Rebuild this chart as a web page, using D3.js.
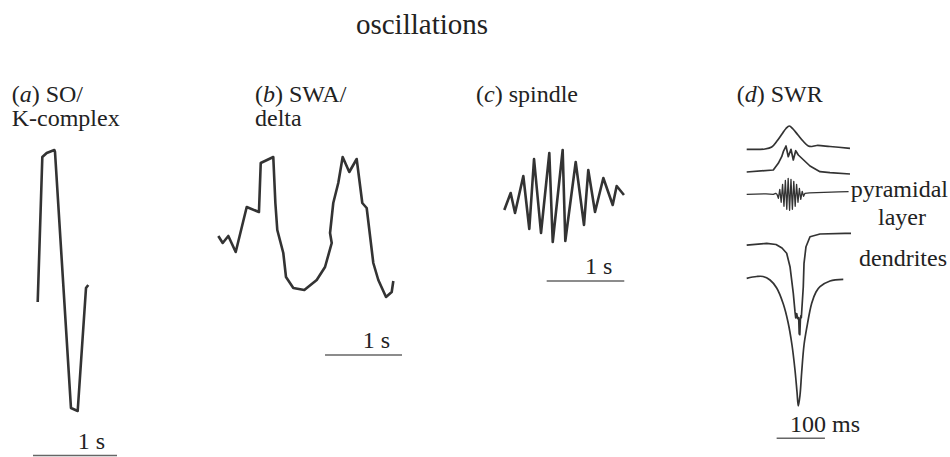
<!DOCTYPE html>
<html>
<head>
<meta charset="utf-8">
<script src="https://cdn.jsdelivr.net/npm/d3@7"></script>
<style>
  body { margin: 0; background: #fff; }
  svg text { fill: #222; }
</style>
</head>
<body>
<svg id="chart" width="950" height="457" font-family="'Liberation Serif', 'Times New Roman', Times, serif"></svg>
<script>
// (a) slow oscillation / K-complex : time (s), amplitude (uV)
const soTime = [0.056, 0.111, 0.163, 0.254, 0.262, 0.452, 0.532, 0.631, 0.658];
const soAmp = [-22, 123, 127, 130, 128, -128, -131, -8, -5];

// (b) slow wave activity / delta
const swaTime = [0.004, 0.061, 0.134, 0.230, 0.373, 0.532, 0.555, 0.718, 0.745, 0.770, 0.848, 0.883,
  0.978, 1.121, 1.282, 1.390, 1.477, 1.455, 1.497, 1.562, 1.619, 1.705, 1.801, 1.874, 1.931, 2.017,
  2.082, 2.182, 2.256, 2.277];
const swaAmp = [-11, -18, -11, -27, 18, 13, 62, 68, 22, -5, -28, -52,
  -63, -65, -55, -42, -18, -8, 22, 42, 68, 53, 66, 22, 17, -38,
  -55, -72, -67, -56];

// (c) spindle
const spindleTime = [0.004, 0.086, 0.142, 0.249, 0.326, 0.387, 0.477, 0.584, 0.628, 0.756, 0.790,
  0.924, 1.031, 1.086, 1.173, 1.280, 1.401, 1.452, 1.546];
const spindleAmp = [-15, 2, -18, 19, -34, 36, -38, 42, -47, 45, -46, 33, -30, 25, -17, 17, -10, 9, 0];

// (d) sharp-wave ripple, five recording depths : time (ms)
const swr1Time = [0, 37.9, 51.8, 62.7, 73.1, 81.4, 88.2, 95.9, 106.2, 116.6, 127.6, 135.2, 145, 172.5, 213.9];
const swr1Amp = [0, 0.3, 2.3, 8.3, 15.3, 20.8, 23.3, 20.3, 14.3, 8.3, 3.3, 2.8, 3.8, 2.8, 1];

const swr2Time = [0, 55.1, 65.4, 72.5, 75.8, 81.4, 86.1, 91.7, 96.5, 101.5, 106.9, 131.1, 151.8, 172.5, 213.9];
const swr2Amp = [0, 2, 8.7, 15.3, 20.3, 26, 15.3, 22.7, 12, 21.3, 17, 6, 0.3, -0.7, -2];

const swr3Time = [0, 40, 55, 60, 62.7, 65.6, 68.5, 71.4, 74.3, 77.2, 80.1, 83, 85.9, 88.8, 91.7, 94.6,
  97.5, 100.4, 103.3, 106.2, 109.1, 112, 114.9, 117.8, 120.7, 130, 160, 190, 211];
const swr3Amp = [0, 0.5, 0, 1, 0, -4, 5, -8, 10, -12, 14, -15, 16, -16, 15, -15,
  13, -12, 10, -8, 6, -5, 3, -2, 1, 1.5, 2, 2.5, 2.6];

const swr4Time = [0, 41.4, 60.7, 73.1, 82.8, 89.7, 96.5, 100, 101.5, 103.6, 105.6, 107.7, 108.7,
  110, 111.2, 112.3, 113.1, 117.2, 118.7, 122.8, 131.1, 151.8, 203.6, 216];
const swr4Amp = [0.5, 2.4, 1.2, -2.3, -7.6, -21, -47.6, -66, -72.3, -68, -73, -72, -88,
  -89, -74, -70, -72, -41, -17.6, -1, 9, 11.7, 12.4, 12.4];

const swr5Time = [0, 20.7, 33.8, 48.3, 62.1, 75.8, 85.5, 93.8, 100, 104.2, 106.9, 110.4, 113.9,
  118.7, 124.3, 134.6, 143.5, 151.8, 172.5, 200];
const swr5Amp = [0, 1.8, 1.8, -1.7, -9.7, -25.7, -43.7, -66.7, -91.7, -113.7, -127.7, -116.7, -93.7,
  -66.7, -49.7, -25, -13.7, -8.4, -2.7, -1];

const svg = d3.select("#chart");
const ink = "#333";

// Title
svg.append("text")
  .attr("x", 422)
  .attr("y", 34)
  .attr("text-anchor", "middle")
  .style("font-size", "29px")
  .text("oscillations");

// Panel headings
function heading(x, letter, lines) {
  const t = svg.append("text").attr("x", x).attr("y", 102).style("font-size", "24px");
  t.append("tspan").text("(");
  t.append("tspan").style("font-style", "italic").text(letter);
  t.append("tspan").text(") " + lines[0]);
  if (lines[1]) {
    svg.append("text").attr("x", x).attr("y", 126).style("font-size", "24px").text(lines[1]);
  }
}
heading(11.7, "a", ["SO/", "K-complex"]);
heading(255, "b", ["SWA/", "delta"]);
heading(476, "c", ["spindle"]);
heading(736.7, "d", ["SWR"]);

// draw one trace from time/amp arrays
function trace(xs, ys, times, amps, width, curve) {
  const pts = times.map((t, i) => [t, amps[i]]);
  const line = d3.line()
    .x(d => xs(d[0]))
    .y(d => ys(d[1]))
    .curve(curve || d3.curveLinear);
  svg.append("path")
    .datum(pts)
    .attr("fill", "none")
    .attr("stroke", ink)
    .attr("stroke-width", width)
    .attr("stroke-linejoin", "round")
    .attr("d", line);
}

// scale bar: horizontal line of one unit plus label above it
function scaleBar(xs, t0, t1, y, label) {
  svg.append("line")
    .attr("x1", xs(t0)).attr("x2", xs(t1))
    .attr("y1", y).attr("y2", y)
    .attr("stroke", "#666")
    .attr("stroke-width", 1.5);
  if (label) {
    svg.append("text")
      .attr("x", xs(t1) - 12)
      .attr("y", y - 7)
      .attr("text-anchor", "end")
      .style("font-size", "24px")
      .text(label);
  }
}

// (a)
const xA = d3.scaleLinear().domain([0, 1]).range([33, 117]);
const yA = d3.scaleLinear().domain([0, 100]).range([280, 180]);
trace(xA, yA, soTime, soAmp, 2.6);
scaleBar(xA, 0, 1, 455.5, "1 s");

// (b)
const xB = d3.scaleLinear().domain([0, 1]).range([218, 295]);
const yB = d3.scaleLinear().domain([0, 100]).range([225, 125]);
trace(xB, yB, swaTime, swaAmp, 2.6);
scaleBar(xB, 1.39, 2.39, 355, "1 s");

// (c)
const xC = d3.scaleLinear().domain([0, 1]).range([504, 581.6]);
const yC = d3.scaleLinear().domain([0, 100]).range([195, 95]);
trace(xC, yC, spindleTime, spindleAmp, 2.6);
scaleBar(xC, 0.55, 1.55, 281, "1 s");

// (d)
const xD = d3.scaleLinear().domain([0, 216]).range([746.7, 851]);
const swrZero = [149.3, 172, 194.3, 245.7, 278.3];
const swrSeries = [
  [swr1Time, swr1Amp], [swr2Time, swr2Amp], [swr3Time, swr3Amp],
  [swr4Time, swr4Amp], [swr5Time, swr5Amp]
];
swrSeries.forEach((s, i) => {
  const yD = d3.scaleLinear().domain([0, 100]).range([swrZero[i], swrZero[i] - 100]);
  const smooth = (i === 0 || i === 4) ? d3.curveCatmullRom.alpha(0.5) : d3.curveLinear;
  trace(xD, yD, s[0], s[1], i === 2 ? 1.3 : 1.7, smooth);
});
scaleBar(xD, 62, 162, 438.3, "");
svg.append("text").attr("x", 790).attr("y", 431.5).style("font-size", "24px").text("100 ms");

svg.append("text").attr("x", 948).attr("y", 197).attr("text-anchor", "end")
  .style("font-size", "24px").text("pyramidal");
svg.append("text").attr("x", 902).attr("y", 225).attr("text-anchor", "middle")
  .style("font-size", "24px").text("layer");
svg.append("text").attr("x", 947).attr("y", 266).attr("text-anchor", "end")
  .style("font-size", "24px").text("dendrites");
</script>
</body>
</html>
